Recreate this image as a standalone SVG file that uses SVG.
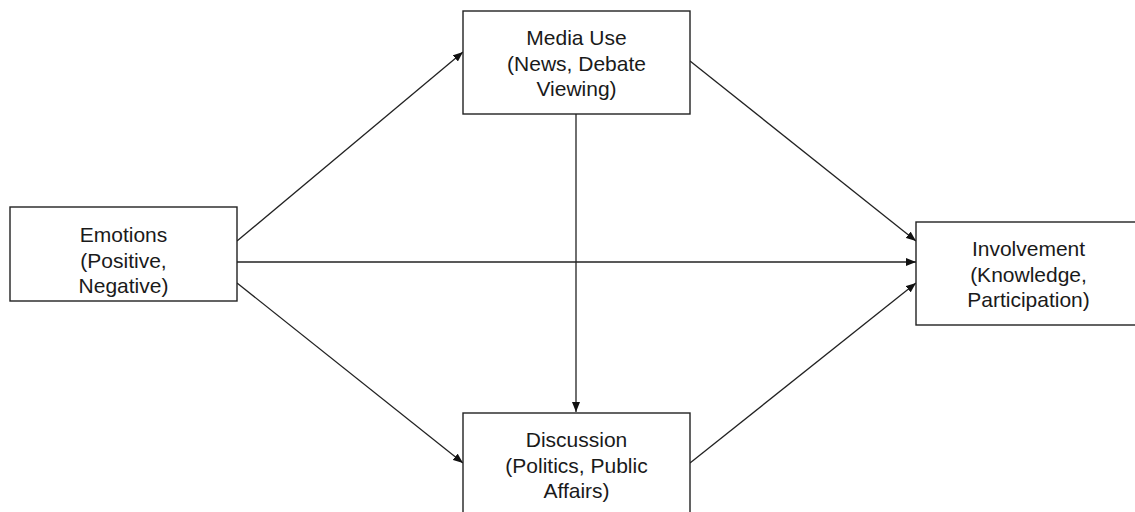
<svg xmlns="http://www.w3.org/2000/svg" width="1135" height="512" viewBox="0 0 1135 512">
  <style>
    .box { fill: #ffffff; stroke: #222222; stroke-width: 1.4; }
    .label { font-family: "Liberation Sans", Arial, sans-serif; font-size: 21px; fill: #1a1a1a; text-anchor: middle; }
    .edge { stroke: #222222; stroke-width: 1.3; fill: none; marker-end: url(#arrow); }
  </style>
  <defs>
    <marker id="arrow" markerUnits="userSpaceOnUse" markerWidth="10" markerHeight="8" refX="10" refY="4" orient="auto">
      <path d="M0,0 L10,4 L0,8 z" fill="#111111"/>
    </marker>
  </defs>
  <rect width="1135" height="512" fill="#ffffff"/>

  <g id="connectors">
    <line class="edge" x1="237" y1="241" x2="463" y2="52"/>
    <line class="edge" x1="237" y1="262" x2="916" y2="262"/>
    <line class="edge" x1="237" y1="283" x2="463" y2="463"/>
    <line class="edge" x1="690" y1="61" x2="916" y2="241"/>
    <line class="edge" x1="576" y1="114" x2="576" y2="412"/>
    <line class="edge" x1="690" y1="463" x2="916" y2="283"/>
  </g>

  <g id="emotions">
    <rect class="box" x="10" y="207" width="227" height="94"/>
    <text class="label" x="123.5" y="242">Emotions</text>
    <text class="label" x="123.5" y="268">(Positive,</text>
    <text class="label" x="123.5" y="293">Negative)</text>
  </g>

  <g id="media-use">
    <rect class="box" x="463" y="11" width="227" height="103"/>
    <text class="label" x="576.5" y="45">Media Use</text>
    <text class="label" x="576.5" y="71">(News, Debate</text>
    <text class="label" x="576.5" y="96">Viewing)</text>
  </g>

  <g id="discussion">
    <rect class="box" x="463" y="413" width="227" height="104"/>
    <text class="label" x="576.5" y="447">Discussion</text>
    <text class="label" x="576.5" y="473">(Politics, Public</text>
    <text class="label" x="576.5" y="498">Affairs)</text>
  </g>

  <g id="involvement">
    <rect class="box" x="916" y="222" width="225" height="103"/>
    <text class="label" x="1028.5" y="256">Involvement</text>
    <text class="label" x="1028.5" y="282">(Knowledge,</text>
    <text class="label" x="1028.5" y="307">Participation)</text>
  </g>
</svg>
